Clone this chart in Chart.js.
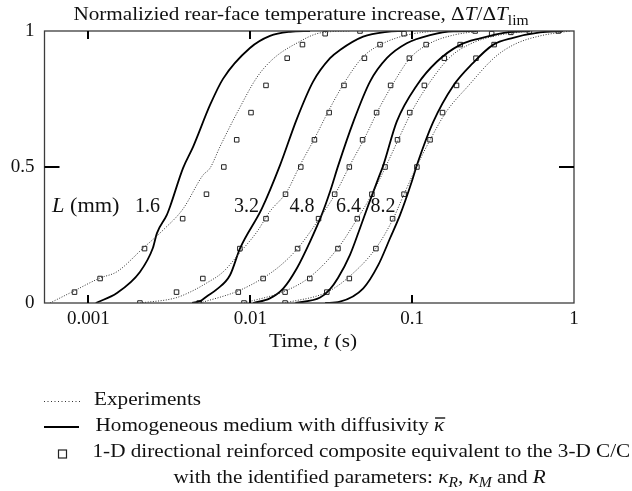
<!DOCTYPE html>
<html>
<head>
<meta charset="utf-8">
<script src="https://cdn.jsdelivr.net/npm/chart.js@4.4.1/dist/chart.umd.min.js"></script>
<style>
html, body { margin: 0; padding: 0; background: #fff; }
canvas { display: block; }
</style>
</head>
<body>
<canvas id="grafico" width="632" height="491" style="width:632px;height:491px"></canvas>
<script>
// eixos
const xTicks = [0.001, 0.01, 0.1, 1];
const xTickText = ['0.001', '0.01', '0.1', '1'];
const yTicks = [0, 0.5, 1];
const yTickText = ['0', '0.5', '1'];
const thickness = ['1.6', '3.2', '4.8', '6.4', '8.2'];

// L = 1.6 mm
const exp16_t = [0.000578, 0.0008, 0.00118, 0.0015, 0.00217, 0.00289, 0.00384, 0.0051, 0.00564, 0.0065, 0.00864, 0.011, 0.0138, 0.01945, 0.027, 0.0413];
const exp16_y = [0, 0.042, 0.092, 0.115, 0.201, 0.268, 0.346, 0.47, 0.496, 0.575, 0.72, 0.83, 0.897, 0.956, 0.993, 1];
const hom16_t = [0.00111, 0.0015, 0.00208, 0.0025, 0.00265, 0.00305, 0.00319, 0.00384, 0.00443, 0.00564, 0.00678, 0.00995, 0.01324, 0.0176, 0.0234];
const hom16_y = [0, 0.037, 0.114, 0.202, 0.257, 0.324, 0.354, 0.496, 0.574, 0.728, 0.824, 0.9375, 0.982, 0.997, 1];
const mod16_t = [0.00082, 0.00118, 0.00222, 0.00382, 0.00536, 0.00686, 0.00824, 0.0101, 0.0125, 0.0169, 0.021, 0.029, 0.0476];
const mod16_y = [0.04, 0.09, 0.2, 0.31, 0.4, 0.5, 0.6, 0.7, 0.8, 0.9, 0.95, 0.99, 1];

// L = 3.2 mm
const exp32_t = [0.00208, 0.00342, 0.00424, 0.00525, 0.00681, 0.00864, 0.011, 0.0132, 0.0168, 0.0203, 0.0251, 0.0311, 0.0385, 0.0499, 0.0664, 0.0926, 0.135];
const exp32_y = [0, 0.018, 0.04, 0.07, 0.115, 0.186, 0.262, 0.336, 0.409, 0.507, 0.608, 0.717, 0.814, 0.906, 0.955, 0.985, 1];
const hom32_t = [0.00437, 0.0049, 0.0054, 0.0062, 0.0075, 0.00864, 0.0118, 0.01527, 0.01945, 0.02443, 0.0311, 0.0358, 0.0498, 0.07, 0.0879];
const hom32_y = [0, 0.007, 0.025, 0.05, 0.103, 0.201, 0.348, 0.507, 0.679, 0.814, 0.9, 0.93, 0.979, 0.997, 1];
const mod32_t = [0.00208, 0.0035, 0.00509, 0.00862, 0.0125, 0.0165, 0.0205, 0.0249, 0.0307, 0.0379, 0.0507, 0.0633, 0.0891];
const mod32_y = [0, 0.04, 0.09, 0.2, 0.31, 0.4, 0.5, 0.6, 0.7, 0.8, 0.9, 0.95, 0.99];

// L = 4.8 mm
const exp48_t = [0.00489, 0.00839, 0.012, 0.0155, 0.0197, 0.0266, 0.0334, 0.0413, 0.0512, 0.0618, 0.0765, 0.097, 0.129, 0.18, 0.263];
const exp48_y = [0, 0.044, 0.092, 0.14, 0.202, 0.309, 0.4, 0.507, 0.61, 0.71, 0.808, 0.9, 0.955, 0.985, 1];
const hom48_t = [0.0104, 0.0132, 0.016, 0.0194, 0.0234, 0.0276, 0.0311, 0.035, 0.0433, 0.0549, 0.0697, 0.0926, 0.129, 0.18, 0.25];
const hom48_y = [0, 0.017, 0.054, 0.128, 0.226, 0.324, 0.41, 0.507, 0.666, 0.814, 0.9, 0.955, 0.985, 0.999, 1];
const mod48_t = [0.00483, 0.00843, 0.012, 0.0196, 0.0264, 0.0332, 0.0409, 0.0494, 0.0603, 0.0736, 0.0961, 0.122, 0.245];
const mod48_y = [0, 0.04, 0.09, 0.2, 0.31, 0.4, 0.5, 0.6, 0.7, 0.8, 0.9, 0.95, 1];

// L = 6.4 mm
const exp64_t = [0.00914, 0.0164, 0.0234, 0.0348, 0.0457, 0.0565, 0.069, 0.083, 0.0999, 0.125, 0.1715, 0.228, 0.325, 0.535];
const exp64_y = [0, 0.044, 0.096, 0.202, 0.309, 0.4, 0.504, 0.607, 0.706, 0.801, 0.904, 0.952, 0.982, 1];
const hom64_t = [0.019, 0.027, 0.031, 0.0348, 0.0413, 0.0476, 0.0536, 0.0618, 0.0664, 0.0803, 0.107, 0.142, 0.198, 0.263, 0.384, 0.535];
const hom64_y = [0, 0.02, 0.05, 0.092, 0.177, 0.275, 0.36, 0.458, 0.507, 0.667, 0.801, 0.887, 0.949, 0.973, 0.995, 1];
const mod64_t = [0.00914, 0.0164, 0.0233, 0.0348, 0.0458, 0.0564, 0.068, 0.0812, 0.0966, 0.119, 0.158, 0.198, 0.31, 0.53];
const mod64_y = [0, 0.04, 0.09, 0.2, 0.31, 0.4, 0.5, 0.6, 0.7, 0.8, 0.9, 0.95, 0.99, 1];

// L = 8.2 mm
const exp82_t = [0.0164, 0.0298, 0.0407, 0.0598, 0.0762, 0.0891, 0.107, 0.131, 0.162, 0.222, 0.325, 0.4325, 0.617, 0.946];
const exp82_y = [0, 0.04, 0.096, 0.202, 0.309, 0.4, 0.504, 0.607, 0.702, 0.798, 0.904, 0.952, 0.982, 1];
const hom82_t = [0.029, 0.0358, 0.0499, 0.0618, 0.073, 0.0842, 0.0994, 0.107, 0.135, 0.18, 0.2345, 0.316, 0.42, 0.617, 0.856];
const hom82_y = [0, 0.005, 0.054, 0.14, 0.238, 0.324, 0.446, 0.507, 0.666, 0.8, 0.879, 0.949, 0.975, 0.995, 1];
const mod82_t = [0.0164, 0.0297, 0.0409, 0.0597, 0.0757, 0.0891, 0.107, 0.129, 0.154, 0.188, 0.248, 0.321, 0.407, 0.8];
const mod82_y = [0, 0.04, 0.09, 0.2, 0.31, 0.4, 0.5, 0.6, 0.7, 0.8, 0.9, 0.95, 0.995, 1];

const expT = [exp16_t, exp32_t, exp48_t, exp64_t, exp82_t];
const expY = [exp16_y, exp32_y, exp48_y, exp64_y, exp82_y];
const homT = [hom16_t, hom32_t, hom48_t, hom64_t, hom82_t];
const homY = [hom16_y, hom32_y, hom48_y, hom64_y, hom82_y];
const modT = [mod16_t, mod32_t, mod48_t, mod64_t, mod82_t];
const modY = [mod16_y, mod32_y, mod48_y, mod64_y, mod82_y];

const SERIF = '"Liberation Serif", "Times New Roman", serif';
const INK = '#111';
const ESTICA = 1.115;   // o tipo de letra original é mais largo

function pontos(t, y) {
    return t.map((v, i) => ({ x: v, y: y[i] }));
}

var datasets = [];
// experiencias (pontilhado)
thickness.forEach((L, i) => {
    datasets.push({
        label: 'Experiments ' + L,
        data: pontos(expT[i], expY[i]),
        borderColor: '#333',
        borderWidth: 1,
        borderDash: [1, 1.6],
        pointRadius: 0,
        cubicInterpolationMode: 'monotone',
        fill: false
    });
});
// meio homogeneo (continuo)
thickness.forEach((L, i) => {
    datasets.push({
        label: 'Homogeneous ' + L,
        data: pontos(homT[i], homY[i]),
        borderColor: '#000',
        borderWidth: 1.8,
        pointRadius: 0,
        cubicInterpolationMode: 'monotone',
        fill: false
    });
});
// compósito 1-D (quadrados)
thickness.forEach((L, i) => {
    datasets.push({
        label: 'Composite ' + L,
        data: pontos(modT[i], modY[i]),
        showLine: false,
        pointStyle: 'rect',
        pointRadius: 3.2,
        pointBorderWidth: 1,
        pointBorderColor: '#222',
        pointBackgroundColor: 'rgba(255,255,255,0)'
    });
});

// escreve texto com partes em itálico / subscrito, esticado na horizontal
function runs(ctx, x, y, parts, align, k) {
    k = k || 1;
    var w = 0;
    parts.forEach(p => {
        ctx.font = (p.i ? 'italic ' : '') + (p.s || 19) + 'px ' + SERIF;
        w += ctx.measureText(p.t).width * k;
    });
    var cx = align === 'center' ? x - w / 2 : x;
    var pos = [];
    parts.forEach(p => {
        ctx.font = (p.i ? 'italic ' : '') + (p.s || 19) + 'px ' + SERIF;
        ctx.textAlign = 'left';
        ctx.textBaseline = 'alphabetic';
        var pw = ctx.measureText(p.t).width * k;
        ctx.save();
        ctx.translate(cx, y + (p.dy || 0));
        ctx.scale(k, 1);
        ctx.fillText(p.t, 0, 0);
        ctx.restore();
        pos.push([cx, pw]);
        cx += pw;
    });
    return pos;
}

const moldura = {
    id: 'moldura',
    afterDraw(chart) {
        const ctx = chart.ctx;
        const a = chart.chartArea;
        const sx = chart.scales.x, sy = chart.scales.y;
        ctx.save();
        // caixa
        ctx.strokeStyle = '#3c3c3c';
        ctx.lineWidth = 1.3;
        ctx.strokeRect(a.left, a.top, a.right - a.left, a.bottom - a.top);
        // marcas
        ctx.strokeStyle = '#000';
        ctx.lineWidth = 2;
        ctx.beginPath();
        xTicks.slice(0, 3).forEach(v => {
            const px = Math.round(sx.getPixelForValue(v));
            ctx.moveTo(px, a.bottom); ctx.lineTo(px, a.bottom - 8);
            ctx.moveTo(px, a.top); ctx.lineTo(px, a.top + 8);
        });
        const py = Math.round(sy.getPixelForValue(0.5));
        ctx.moveTo(a.left, py); ctx.lineTo(a.left + 15, py);
        ctx.moveTo(a.right, py); ctx.lineTo(a.right - 15, py);
        ctx.stroke();

        ctx.fillStyle = INK;
        // titulo
        runs(ctx, 301, 19.5, [
            { t: 'Normalizied rear-face temperature increase, Δ' },
            { t: 'T', i: true },
            { t: '/Δ' },
            { t: 'T', i: true },
            { t: 'lim', s: 14, dy: 5 }
        ], 'center', ESTICA);
        // eixo x
        runs(ctx, 313, 347, [
            { t: 'Time, ' }, { t: 't', i: true }, { t: ' (s)' }
        ], 'center', ESTICA);
        // espessuras
        runs(ctx, 52, 212, [{ t: 'L', i: true, s: 20 }, { t: ' (mm)', s: 20 }], 'left', ESTICA);
        const labelX = [135, 234, 289.5, 336, 370.5];
        thickness.forEach((L, i) => runs(ctx, labelX[i], 212, [{ t: L, s: 20 }]));

        // legenda
        ctx.strokeStyle = '#333';
        ctx.lineWidth = 1;
        ctx.setLineDash([1, 2.5]);
        ctx.beginPath(); ctx.moveTo(44, 401.5); ctx.lineTo(81, 401.5); ctx.stroke();
        ctx.setLineDash([]);
        runs(ctx, 94, 405, [{ t: 'Experiments' }], 'left', ESTICA);

        ctx.strokeStyle = '#000';
        ctx.lineWidth = 2;
        ctx.beginPath(); ctx.moveTo(44, 427); ctx.lineTo(79, 427); ctx.stroke();
        const p = runs(ctx, 95.5, 431, [{ t: 'Homogeneous medium with diffusivity ' }, { t: 'κ', i: true }], 'left', ESTICA);
        const k = p[1];
        ctx.lineWidth = 1.3;
        ctx.beginPath(); ctx.moveTo(k[0] + 1, 418); ctx.lineTo(k[0] + k[1] + 1, 418); ctx.stroke();

        ctx.strokeStyle = '#222';
        ctx.lineWidth = 1.2;
        ctx.strokeRect(58.5, 450, 8, 8);
        runs(ctx, 92.5, 457, [{ t: '1-D directional reinforced composite equivalent to the 3-D C/C' }], 'left', ESTICA);
        runs(ctx, 173.5, 483, [
            { t: 'with the identified parameters: ' },
            { t: 'κ', i: true }, { t: 'R', i: true, s: 14, dy: 4 },
            { t: ', ' },
            { t: 'κ', i: true }, { t: 'M', i: true, s: 14, dy: 4 },
            { t: ' and ' },
            { t: 'R', i: true }
        ], 'left', ESTICA);
        ctx.restore();
    }
};

var grafico = new Chart(document.getElementById('grafico'), {
    type: 'line',
    data: { datasets: datasets },
    options: {
        responsive: false,
        devicePixelRatio: 1,
        animation: false,
        layout: { padding: { left: 0, right: 58, top: 31, bottom: 148 } },
        plugins: {
            legend: { display: false },
            tooltip: { enabled: false },
            title: { display: false }
        },
        scales: {
            x: {
                type: 'logarithmic',
                min: 0.000535,
                max: 1,
                grid: { display: false, drawTicks: false },
                border: { display: false },
                afterBuildTicks: s => { s.ticks = xTicks.map(v => ({ value: v })); },
                afterFit: s => { s.height = 40; },
                ticks: {
                    autoSkip: false,
                    maxRotation: 0,
                    padding: 5,
                    color: INK,
                    font: { family: SERIF, size: 19 },
                    callback: (v) => xTickText[xTicks.indexOf(v)]
                }
            },
            y: {
                type: 'linear',
                min: 0,
                max: 1,
                grid: { display: false, drawTicks: false },
                border: { display: false },
                afterBuildTicks: s => { s.ticks = yTicks.map(v => ({ value: v })); },
                afterFit: s => { s.width = 44.5; },
                ticks: {
                    padding: 10,
                    color: INK,
                    font: { family: SERIF, size: 19 },
                    callback: (v) => yTickText[yTicks.indexOf(v)]
                }
            }
        }
    },
    plugins: [moldura]
});
</script>
</body>
</html>
